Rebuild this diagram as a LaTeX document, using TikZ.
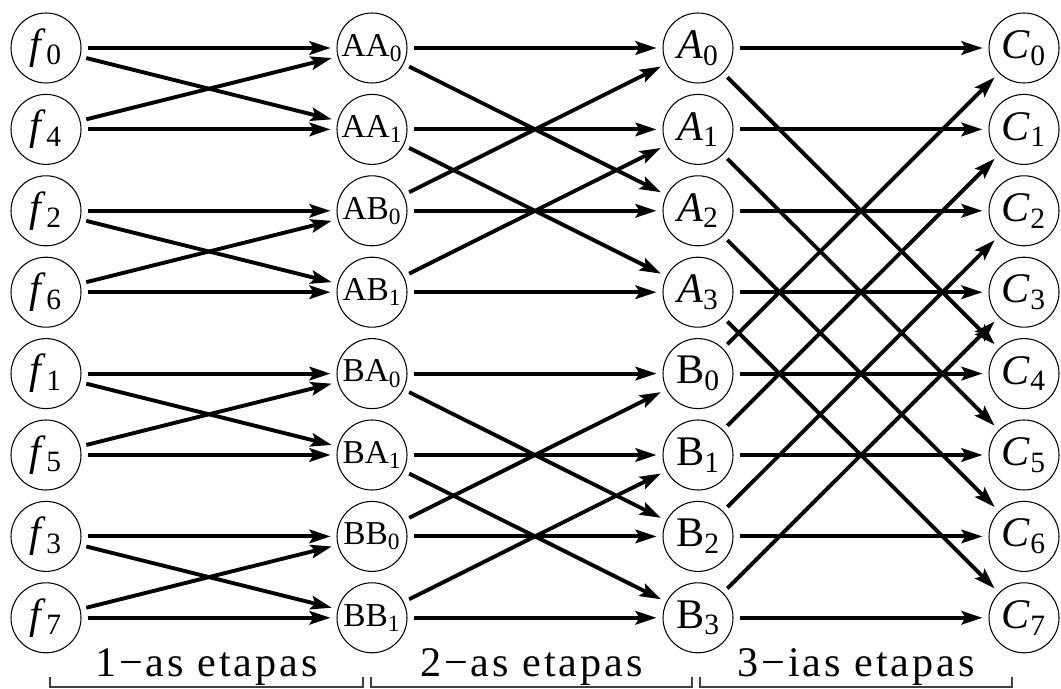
\documentclass[tikz,border=0pt]{standalone}
\usepackage{fontspec}
\setmainfont{Liberation Serif}
\newfontfamily\spacedfont[LetterSpace=7]{Liberation Serif}
\usetikzlibrary{arrows.meta}

\begin{document}
\begin{tikzpicture}[
  fftnode/.style={draw, circle, line width=0.6pt, minimum size=1.4cm, inner sep=0pt, outer sep=0.13cm, font=\fontsize{24}{28}\selectfont},
  midnode/.style={fftnode, font=\fontsize{19}{22}\selectfont},
  flow/.style={line width=2.2pt, -{Stealth[length=0.42cm, width=0.27cm, inset=0.08cm]}},
  stagebar/.style={line width=0.7pt, black!75},
  stagelabel/.style={anchor=base, font=\spacedfont\fontsize{24}{28}\selectfont}
]
  \useasboundingbox (0,0) rectangle (21.22,-13.78);

  % Inputs, bit-reversed order
  \foreach \s [count=\r from 0] in {0,4,2,6,1,5,3,7}
    \node[fftnode] (in\r) at (0.92, {-0.96-1.628*\r}) {\textit{f}\textsubscript{\s}};

  % First stage
  \foreach \t/\s [count=\r from 0] in {AA/0,AA/1,AB/0,AB/1,BA/0,BA/1,BB/0,BB/1}
    \node[midnode] (one\r) at (7.44, {-0.96-1.628*\r}) {\t\textsubscript{\s}};

  % Second stage
  \foreach \t/\s [count=\r from 0] in {\textit{A}/0,\textit{A}/1,\textit{A}/2,\textit{A}/3,B/0,B/1,B/2,B/3}
    \node[fftnode] (two\r) at (13.96, {-0.96-1.628*\r}) {\t\textsubscript{\s}};

  % Outputs
  \foreach \r in {0,...,7}
    \node[fftnode] (out\r) at (20.48, {-0.96-1.628*\r}) {\textit{C}\textsubscript{\r}};

  % Straight arrows
  \foreach \r in {0,...,7} {
    \draw[flow] (in\r) -- (one\r);
    \draw[flow] (one\r) -- (two\r);
    \draw[flow] (two\r) -- (out\r);
  }

  % Butterflies
  \foreach \a/\b in {0/1,1/0,2/3,3/2,4/5,5/4,6/7,7/6}
    \draw[flow] (in\a) -- (one\b);
  \foreach \a/\b in {0/2,1/3,2/0,3/1,4/6,5/7,6/4,7/5}
    \draw[flow] (one\a) -- (two\b);
  \foreach \a/\b in {0/4,1/5,2/6,3/7,4/0,5/1,6/2,7/3}
    \draw[flow] (two\a) -- (out\b);

  % Stage brackets
  \draw[stagebar] (1.0,-13.54) -- (1.0,-13.74) -- (7.26,-13.74) -- (7.26,-13.54);
  \draw[stagebar] (7.42,-13.54) -- (7.42,-13.74) -- (13.84,-13.74) -- (13.84,-13.54);
  \draw[stagebar] (14.0,-13.54) -- (14.0,-13.74) -- (20.24,-13.74) -- (20.24,-13.54);
  \node[stagelabel] (st1) at (4.13,-13.52) {1−as etapas};
  \node[stagelabel] (st2) at (10.63,-13.52) {2−as etapas};
  \node[stagelabel] (st3) at (17.12,-13.52) {3−ias etapas};
\end{tikzpicture}
\end{document}
